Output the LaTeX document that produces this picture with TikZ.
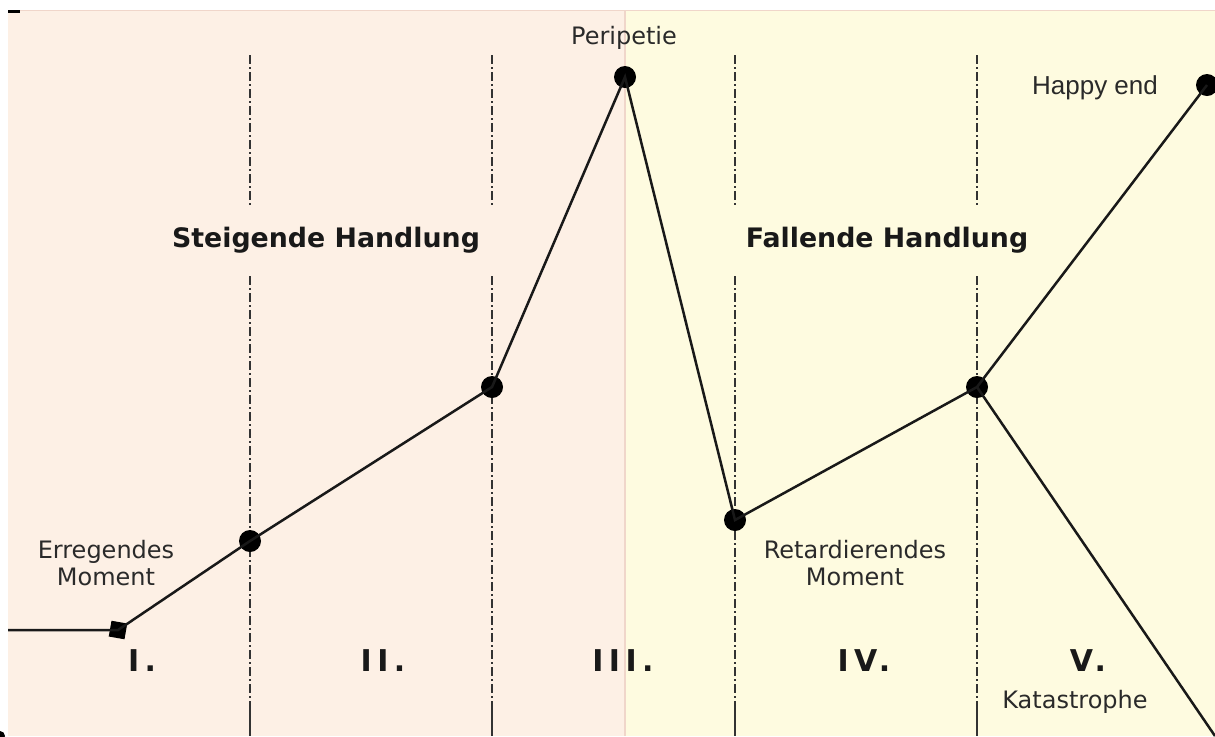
\documentclass[tikz,border=0pt]{standalone}
\usepackage{fontspec}
\setmainfont{DejaVu Sans}
\newfontfamily\arialf{Liberation Sans}
\newfontfamily\numf[LetterSpace=18]{DejaVu Sans}
\definecolor{pinkbg}{HTML}{FDF0E5}
\definecolor{yellowbg}{HTML}{FEFBE0}
\definecolor{edgepink}{HTML}{F0D6CA}
\definecolor{txt}{HTML}{2A2A2A}
\begin{document}
\begin{tikzpicture}[x=0.5pt,y=-0.5pt,
  pt/.style={circle,fill=black,inner sep=0pt,minimum size=11pt},
  sq/.style={rectangle,fill=black,inner sep=0pt,minimum size=8pt,rotate=-10},
  plot/.style={line width=1.25pt,draw=black!90},
  divider/.style={line width=0.85pt,draw=black!80,dash pattern=on 4.5pt off 1.5pt on 1pt off 1.5pt},
  dividersolid/.style={line width=0.85pt,draw=black!80},
  lbl/.style={inner sep=0pt,text=txt,font=\fontsize{12}{13.5}\selectfont,align=center},
  head/.style={inner sep=0pt,text=black!90,font=\fontsize{13.4}{16}\selectfont\bfseries},
  num/.style={inner sep=0pt,text=black!90,font=\numf\fontsize{15}{17}\selectfont\bfseries}]
\useasboundingbox (0,0) rectangle (1215,736);
% background
\fill[white] (0,0) rectangle (1215,736);
\fill[pinkbg] (8,10) rectangle (625,736);
\fill[yellowbg] (625,10) rectangle (1215,736);
\draw[edgepink,line width=0.6pt] (8,10.5) -- (1215,10.5);
\draw[edgepink,line width=0.6pt] (625,10) -- (625,736);
\fill[black] (8,10) rectangle (20,13);
\fill[black] (0,736) circle (5);
% dividers
\foreach \x [count=\i] in {250,492,735,977}{
  \coordinate (t\i) at (\x,55);
  \coordinate (g\i) at (\x,208);
  \coordinate (h\i) at (\x,276);
  \coordinate (s\i) at (\x,710);
  \coordinate (b\i) at (\x,736);
  \draw[divider] (t\i) -- (g\i);
  \draw[divider] (h\i) -- (s\i);
  \draw[dividersolid] (s\i) -- (b\i);
}
% points
\coordinate (start) at (8,630);
\node[sq] (erreg) at (118,630) {};
\node[pt] (p1) at (250,541) {};
\node[pt] (p2) at (492,387) {};
\node[pt] (peri) at (625,77) {};
\node[pt] (ret) at (735,520) {};
\node[pt] (p4) at (977,387) {};
\node[pt] (happy) at (1207,85) {};
\coordinate (kat) at (1215,736);
\draw[plot] (start) -- (erreg.center) -- (p1.center) -- (p2.center) -- (peri.center) -- (ret.center) -- (p4.center) -- (happy.center);
\draw[plot] (p4.center) -- (kat);
% labels
\node[lbl] (lperi) at (624,38) {Peripetie};
\node[lbl] (lerreg) at (106,563) {Erregendes\\Moment};
\node[lbl] (lret) at (855,563) {Retardierendes\\Moment};
\node[lbl] (lkat) at (1075,702) {Katastrophe};
\node[inner sep=0pt,text=txt,font=\arialf\fontsize{13}{15}\selectfont] (lhappy) at (1095,88) {Happy end};
\node[head] (hst) at (326,240) {Steigende Handlung};
\node[head] (hfa) at (887,240) {Fallende Handlung};
\node[num] (n1) at (142,661) {I.};
\node[num] (n2) at (383,661) {II.};
\node[num] (n3) at (623,661) {III.};
\node[num] (n4) at (864,661) {IV.};
\node[num] (n5) at (1088,661) {V.};
\end{tikzpicture}
\end{document}
